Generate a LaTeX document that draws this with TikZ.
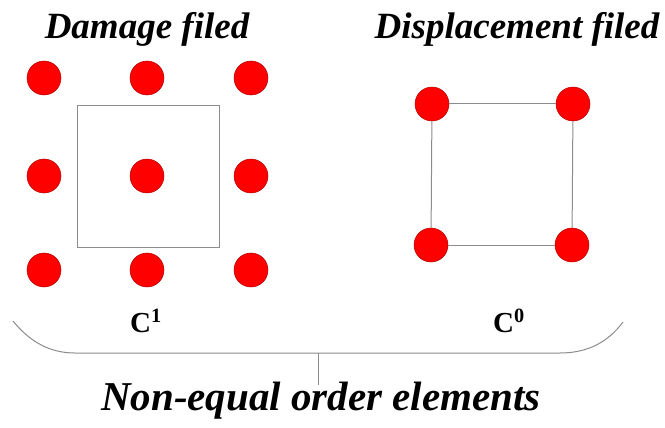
\documentclass[tikz,border=0pt]{standalone}
\usepackage{fontspec}
\setmainfont{Liberation Serif}
\usetikzlibrary{positioning}

\tikzset{
  dot/.style={circle, draw=red!70!black, line width=0.5pt, fill=red, minimum size=34pt, inner sep=0pt},
  edge/.style={draw=black!45, line width=1pt},
  title/.style={font=\fontsize{37}{42}\selectfont\bfseries\itshape, anchor=base, inner sep=0pt},
  order/.style={font=\fontsize{29}{34}\selectfont\bfseries, anchor=base, inner sep=0pt}
}

\begin{document}
\begin{tikzpicture}[x=1pt, y=-1pt]
                \useasboundingbox (0,0) rectangle (665,428);

                % Titles
                \node (damage) [title] at (147,39) {Damage filed};
                \node (disp) [title] at (517,39) {Displacement filed};

                % Damage field (C1)
                \draw[edge] (77,106) rectangle (219,247);
                \node (d11) [dot] at (44,78) {};
                \node (d12) [dot] at (147,78) {};
                \node (d13) [dot] at (251,78) {};
                \node (d21) [dot] at (44,176) {};
                \node (d22) [dot] at (147,176) {};
                \node (d23) [dot] at (251,176) {};
                \node (d31) [dot] at (44,270) {};
                \node (d32) [dot] at (147,270) {};
                \node (d33) [dot] at (251,270) {};

                % Displacement field (C0)
                \node (u1) [dot] at (432,104) {};
                \node (u2) [dot] at (573,104) {};
                \node (u3) [dot] at (431,245) {};
                \node (u4) [dot] at (572,245) {};
                \draw[edge] (u1) -- (u2);
                \draw[edge] (u2) -- (u4);
                \draw[edge] (u4) -- (u3);
                \draw[edge] (u3) -- (u1);

                % Continuity
                \node (c1) [order] at (146,332) {C\textsuperscript{1}};
                \node (c0) [order] at (509,332) {C\textsuperscript{0}};

                % Brace
                \draw[edge] (13,321) .. controls (30,342) and (50,353) .. (75,353)
                    -- (560,353) .. controls (588,353) and (608,342) .. (623,322);
                \coordinate (tick) at (318,353);
                \node (elements) [title, font=\fontsize{41}{46}\selectfont\bfseries\itshape] at (321,410) {Non-equal order elements};
                \coordinate (tickend) at (318,385);
                \draw[edge] (tick) -- (tickend);
            \end{tikzpicture}
\end{document}
